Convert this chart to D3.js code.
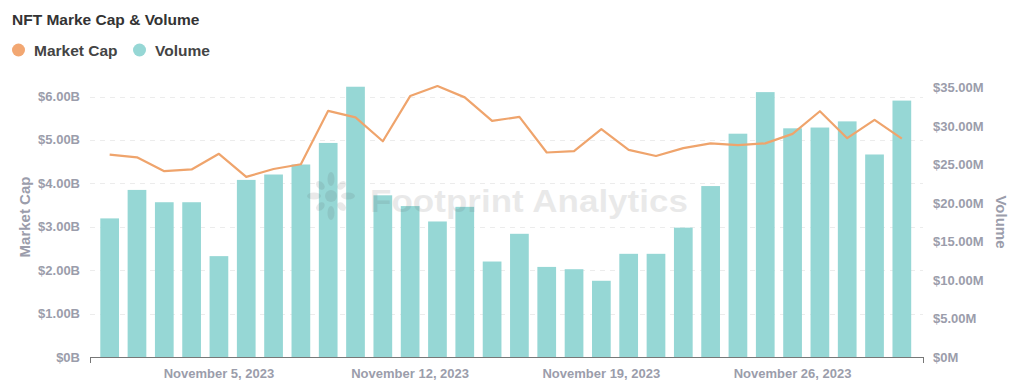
<!DOCTYPE html>
<html>
<head>
<meta charset="utf-8">
<script src="https://cdn.jsdelivr.net/npm/d3@7"></script>
<style>
  body { margin: 0; background: #fff; }
  text { font-family: "Liberation Sans", Arial, sans-serif; }
</style>
</head>
<body>
<script>
// daily NFT market cap (B) and volume (M), November 2023
var days = d3.range(1, 31);
var marketCap = [4.66, 4.60, 4.28, 4.32, 4.68, 4.15, 4.33, 4.44, 5.67, 5.52,
                 4.97, 6.01, 6.24, 5.98, 5.44, 5.53, 4.71, 4.74, 5.25, 4.77,
                 4.63, 4.81, 4.92, 4.88, 4.92, 5.14, 5.66, 5.04, 5.46, 5.03];
var volume = [18.0, 21.7, 20.1, 20.1, 13.1, 23.0, 23.7, 25.0, 27.8, 35.1,
              21.0, 19.6, 17.6, 19.5, 12.4, 16.0, 11.7, 11.4, 9.9, 13.4,
              13.4, 16.8, 22.2, 29.0, 34.4, 29.7, 29.8, 30.6, 26.3, 33.3];
var capTicks = [0, 1, 2, 3, 4, 5, 6];
var volTicks = [0, 5, 10, 15, 20, 25, 30, 35];
var labelDays = [5, 12, 19, 26];

var W = 1022, H = 390;
var plotLeft = 90, plotRight = 923, plotTop = 87.5, plotBottom = 357;

var svg = d3.select("body").append("svg")
    .attr("width", W)
    .attr("height", H);

var x = d3.scaleBand()
    .domain(days)
    .range([96, 915.5])
    .paddingInner(0.315)
    .paddingOuter(0.1575);

var yCap = d3.scaleLinear()
    .domain([0, 6 * (plotBottom - plotTop) / (plotBottom - 96.5)])
    .range([plotBottom, plotTop]);

var yVol = d3.scaleLinear()
    .domain([0, 35])
    .range([plotBottom, plotTop]);

// title + legend
svg.append("text")
    .attr("x", 12).attr("y", 25)
    .attr("font-size", 15.5).attr("font-weight", "bold")
    .attr("fill", "#333")
    .text("NFT Marke Cap & Volume");

var legend = [
    { name: "Market Cap", color: "#F2A772", cx: 18.5, tx: 34 },
    { name: "Volume", color: "#96D7D5", cx: 139.5, tx: 155 }
];
svg.selectAll(".leg-dot").data(legend).enter().append("circle")
    .attr("cx", function(d) { return d.cx; })
    .attr("cy", 50)
    .attr("r", 6.5)
    .attr("fill", function(d) { return d.color; });
svg.selectAll(".leg-text").data(legend).enter().append("text")
    .attr("x", function(d) { return d.tx; })
    .attr("y", 56)
    .attr("font-size", 15.5).attr("font-weight", "bold")
    .attr("fill", "#444")
    .text(function(d) { return d.name; });

// grid lines
svg.append("g")
    .selectAll("line")
    .data(capTicks.slice(1))
    .enter().append("line")
    .attr("x1", plotLeft).attr("x2", plotRight)
    .attr("y1", function(d) { return Math.round(yCap(d)) + 0.5; })
    .attr("y2", function(d) { return Math.round(yCap(d)) + 0.5; })
    .attr("stroke", "#ececec")
    .attr("stroke-dasharray", "5,5");

// bars
svg.append("g")
    .selectAll("rect")
    .data(days)
    .enter().append("rect")
    .attr("x", function(d) { return x(d); })
    .attr("width", x.bandwidth())
    .attr("y", function(d, i) { return yVol(volume[i]); })
    .attr("height", function(d, i) { return plotBottom - yVol(volume[i]); })
    .attr("fill", "#96D7D5");

// market cap line
var line = d3.line()
    .x(function(d) { return x(d) + x.bandwidth() / 2; })
    .y(function(d, i) { return yCap(marketCap[i]); });

svg.append("path")
    .datum(days)
    .attr("d", line)
    .attr("fill", "none")
    .attr("stroke", "#EFA46C")
    .attr("stroke-width", 2.2)
    .attr("stroke-linejoin", "round");

// watermark
var wm = svg.append("g").attr("opacity", 0.12).attr("fill", "#555");
wm.append("circle").attr("cx", 331).attr("cy", 196).attr("r", 6);
d3.range(8).forEach(function(k) {
    var a = k * 45;
    wm.append("ellipse")
        .attr("cx", 0).attr("cy", 0)
        .attr("rx", k % 2 ? 5 : 7).attr("ry", 3.5)
        .attr("transform", "translate(331,196) rotate(" + a + ") translate(" + (k % 2 ? 15 : 17) + ",0)");
});
wm.append("text")
    .attr("x", 370).attr("y", 212)
    .attr("font-size", 32).attr("font-weight", "bold")
    .attr("textLength", 318)
    .attr("lengthAdjust", "spacingAndGlyphs")
    .text("Footprint Analytics");

// x axis
var axisColor = "#777";
svg.append("line")
    .attr("x1", plotLeft).attr("x2", plotRight)
    .attr("y1", plotBottom + 0.5).attr("y2", plotBottom + 0.5)
    .attr("stroke", axisColor);
[plotLeft, plotRight].forEach(function(px) {
    svg.append("line")
        .attr("x1", px + 0.5).attr("x2", px + 0.5)
        .attr("y1", plotBottom).attr("y2", plotBottom + 6)
        .attr("stroke", axisColor);
});

var tickColor = "#9B9DAB";
svg.append("g")
    .selectAll("text")
    .data(labelDays)
    .enter().append("text")
    .attr("x", function(d) { return x(d) + x.bandwidth() / 2; })
    .attr("y", 378)
    .attr("text-anchor", "middle")
    .attr("font-size", 13).attr("font-weight", "bold")
    .attr("fill", tickColor)
    .text(function(d) { return "November " + d + ", 2023"; });

// left axis labels
svg.append("g")
    .selectAll("text")
    .data(capTicks)
    .enter().append("text")
    .attr("x", 80)
    .attr("y", function(d) { return yCap(d) + 4.5; })
    .attr("text-anchor", "end")
    .attr("font-size", 13).attr("font-weight", "bold")
    .attr("fill", tickColor)
    .text(function(d) { return d === 0 ? "$0B" : "$" + d.toFixed(2) + "B"; });

// right axis labels
svg.append("g")
    .selectAll("text")
    .data(volTicks)
    .enter().append("text")
    .attr("x", 933)
    .attr("y", function(d) { return yVol(d) + 4.5; })
    .attr("font-size", 13).attr("font-weight", "bold")
    .attr("fill", tickColor)
    .text(function(d) { return d === 0 ? "$0M" : "$" + d.toFixed(2) + "M"; });

// axis titles
svg.append("text")
    .attr("transform", "translate(30,217) rotate(-90)")
    .attr("text-anchor", "middle")
    .attr("font-size", 15).attr("font-weight", "bold")
    .attr("fill", tickColor)
    .text("Market Cap");

svg.append("text")
    .attr("transform", "translate(996,222) rotate(90)")
    .attr("text-anchor", "middle")
    .attr("font-size", 15).attr("font-weight", "bold")
    .attr("fill", tickColor)
    .text("Volume");
</script>
</body>
</html>
